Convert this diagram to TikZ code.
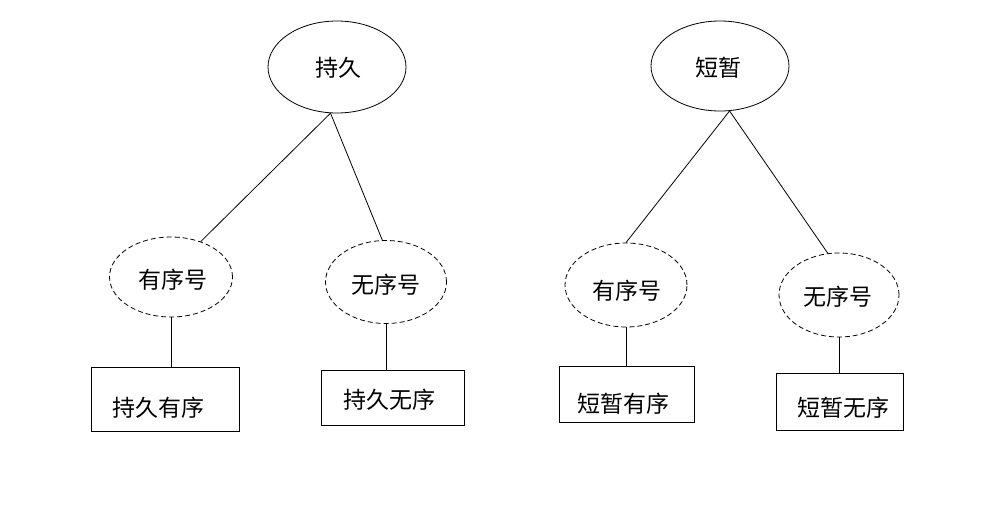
\documentclass[tikz,border=0pt]{standalone}
\usepackage{fontspec}
\setmainfont{Noto Sans CJK SC}
\usetikzlibrary{shapes.geometric}
\begin{document}
\begin{tikzpicture}[x=1pt,y=-1pt,
  every node/.style={font=\fontsize{23}{26}\selectfont, inner sep=0pt},
  solidell/.style={ellipse, draw, line width=0.8pt},
  dashell/.style={ellipse, draw, line width=0.8pt, dash pattern=on 5pt off 3pt},
  leafbox/.style={rectangle, draw, line width=0.8pt},
  conn/.style={line width=0.8pt}]
\useasboundingbox (0,0) rectangle (1003,515);
\fill[white] (0,0) rectangle (1003,515);
% roots
\node[solidell, minimum width=138, minimum height=92] (cj) at (337,67) {};
\node (cjt) at (338,68) {持久};
\node[solidell, minimum width=138, minimum height=90] (dz) at (720,66) {};
\node (dzt) at (718,68) {短暂};
% middle
\node[dashell, minimum width=123, minimum height=80] (yl) at (171,277) {};
\node (ylt) at (173,280) {有序号};
\node[dashell, minimum width=121, minimum height=83] (wl) at (386,282) {};
\node (wlt) at (386,285) {无序号};
\node[dashell, minimum width=122, minimum height=84] (yr) at (626,285) {};
\node (yrt) at (627,291) {有序号};
\node[dashell, minimum width=120, minimum height=84] (wr) at (839,295) {};
\node (wrt) at (838,297) {无序号};
% leaves
\node[leafbox, minimum width=148, minimum height=64] (b1) at (165,399) {};
\node (b1t) at (158,408) {持久有序};
\node[leafbox, minimum width=143, minimum height=55] (b2) at (392.5,397.5) {};
\node (b2t) at (389,400) {持久无序};
\node[leafbox, minimum width=135, minimum height=56] (b3) at (626.5,394) {};
\node (b3t) at (623,404) {短暂有序};
\node[leafbox, minimum width=127, minimum height=57] (b4) at (839.5,401.5) {};
\node (b4t) at (843,408) {短暂无序};
% connectors
\draw[conn] (cj.262) -- (yl.50);
\draw[conn] (cj.262) -- (wl.95);
\draw[conn] (dz.282) -- (yr.90);
\draw[conn] (dz.282) -- (wr.105);
\draw[conn] (yl.south) -- (yl.south |- b1.north);
\draw[conn] (wl.south) -- (wl.south |- b2.north);
\draw[conn] (yr.south) -- (yr.south |- b3.north);
\draw[conn] (wr.south) -- (wr.south |- b4.north);
\end{tikzpicture}
\end{document}
